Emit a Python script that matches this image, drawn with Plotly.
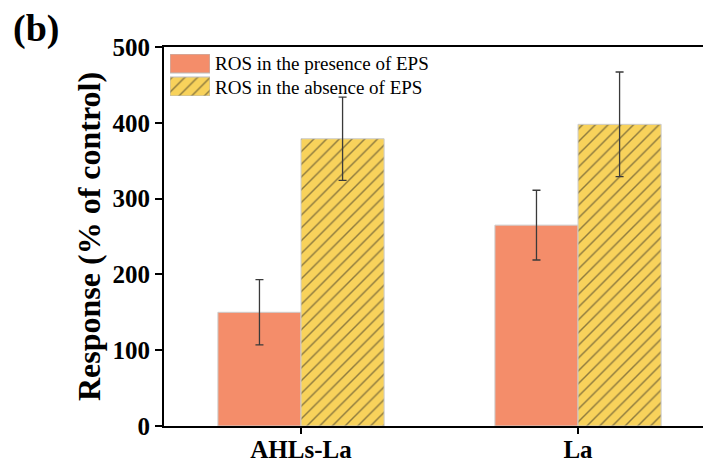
import plotly.graph_objects as go

categories = ["AHLs-La", "La"]
series_names = ["ROS in the presence of EPS", "ROS in the absence of EPS"]
with_eps = [150, 265]
with_eps_err = [43, 46]
without_eps = [379, 398]
without_eps_err = [55, 69]
y_ticks = [0, 100, 200, 300, 400, 500]

RED = "#F48D6A"
YEL = "#F8D25B"
FONT = "Liberation Serif"

fig = go.Figure()

fig.add_trace(go.Bar(
    x=categories, y=with_eps, name=series_names[0], showlegend=False,
    marker=dict(color=RED, line=dict(color="#cccccc", width=1)),
    error_y=dict(type="data", array=with_eps_err, color="#3a3a3a", thickness=1.3, width=4),
))
fig.add_trace(go.Bar(
    x=categories, y=without_eps, name=series_names[1], showlegend=False,
    marker=dict(color=YEL, line=dict(color="#cccccc", width=1),
                pattern=dict(shape="/", fgcolor="#222222", bgcolor=YEL, size=9, solidity=0.16)),
    error_y=dict(type="data", array=without_eps_err, color="#3a3a3a", thickness=1.3, width=4),
))

# legend swatches drawn as bars on a small auxiliary axis
fig.add_trace(go.Bar(
    y=[1], x=[1], base=[0], orientation="h", width=0.826, xaxis="x2", yaxis="y2",
    showlegend=False, hoverinfo="skip",
    marker=dict(color=RED, line=dict(color="#bbbbbb", width=1)),
))
fig.add_trace(go.Bar(
    y=[0], x=[1], base=[0], orientation="h", width=0.826, xaxis="x2", yaxis="y2",
    showlegend=False, hoverinfo="skip",
    marker=dict(color=YEL, line=dict(color="#bbbbbb", width=1),
                pattern=dict(shape="/", fgcolor="#222222", bgcolor=YEL, size=9, solidity=0.16)),
))

# page is rendered with an 8px body margin
OFF = 8
PAGE_W, PAGE_H = 711, 469
W, H = PAGE_W - OFF, PAGE_H - OFF
# plot area in page pixels
PL, PT, PB = 164, 47, 426
L = PL - OFF
T = PT - OFF
B = H - (PB - OFF)
pw = W - L
ph = H - T - B

def px_x(x):
    return (x - OFF - L) / pw

def px_y(y):
    return (H - B - (y - OFF)) / ph

xaxis_cfg = dict(
    range=[-0.4946, 1.48], showline=True, linecolor="black", linewidth=2,
    mirror=True, ticks="outside", ticklen=6, tickwidth=2, tickcolor="black",
    tickfont=dict(family=FONT, size=25, color="black", weight="bold"),
    showgrid=False, zeroline=False, fixedrange=True,
)

fig.update_layout(
    width=W, height=H,
    margin=dict(l=L, r=0, t=T, b=B, autoexpand=False),
    plot_bgcolor="white", paper_bgcolor="white",
    barmode="group", bargap=0.4, bargroupgap=0,
    xaxis=xaxis_cfg,
    yaxis=dict(
        range=[0, 500], tickvals=y_ticks, showline=True, linecolor="black", linewidth=2,
        ticks="outside", ticklen=7, tickwidth=2, tickcolor="black",
        tickfont=dict(family=FONT, size=25, color="black", weight="bold"),
        showgrid=False, zeroline=False, fixedrange=True,
    ),
    xaxis2=dict(domain=[px_x(170), px_x(210)], range=[0, 1], anchor="y2",
                visible=False, fixedrange=True),
    yaxis2=dict(domain=[px_y(96), px_y(54)], range=[-0.413, 1.413], anchor="x2",
                visible=False, fixedrange=True),
    annotations=[
        dict(text="Response (% of control)", textangle=-90, xref="paper", yref="paper",
             x=px_x(89), y=px_y(237), xanchor="center", yanchor="middle", showarrow=False,
             font=dict(family=FONT, size=32, color="black", weight="bold")),
        dict(text="(b)", xref="paper", yref="paper", x=px_x(11), y=px_y(28),
             xanchor="left", yanchor="middle", showarrow=False,
             font=dict(family=FONT, size=38, color="black", weight="bold")),
        dict(text=series_names[0], xref="paper", yref="paper", x=px_x(213), y=px_y(64),
             xanchor="left", yanchor="middle", showarrow=False,
             font=dict(family=FONT, size=19, color="black")),
        dict(text=series_names[1], xref="paper", yref="paper", x=px_x(213), y=px_y(87),
             xanchor="left", yanchor="middle", showarrow=False,
             font=dict(family=FONT, size=19, color="black")),
    ],
)

try:
    fig.layout.xaxis.ticklabelstandoff = -6
except Exception:
    pass

fig.write_html("out.html", config={"displayModeBar": False})
